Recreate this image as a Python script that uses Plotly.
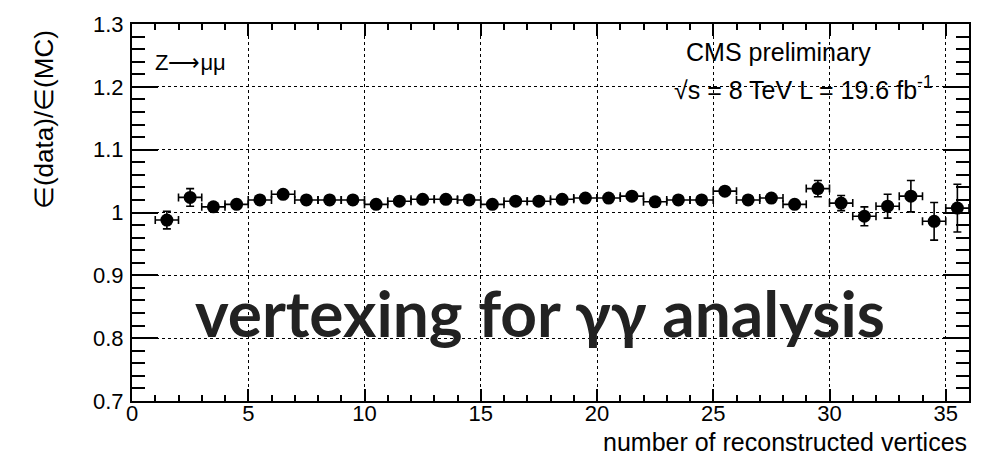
import plotly.graph_objects as go

# Data/MC efficiency ratio per bin of reconstructed vertices
n_vertices = [1.5, 2.5, 3.5, 4.5, 5.5, 6.5, 7.5, 8.5, 9.5, 10.5, 11.5, 12.5,
              13.5, 14.5, 15.5, 16.5, 17.5, 18.5, 19.5, 20.5, 21.5, 22.5, 23.5,
              24.5, 25.5, 26.5, 27.5, 28.5, 29.5, 30.5, 31.5, 32.5, 33.5, 34.5, 35.5]
ratio = [0.988, 1.024, 1.009, 1.013, 1.020, 1.029, 1.020, 1.020, 1.020, 1.013,
         1.018, 1.021, 1.021, 1.020, 1.013, 1.018, 1.018, 1.021, 1.023, 1.023,
         1.026, 1.017, 1.020, 1.020, 1.034, 1.020, 1.023, 1.013, 1.038, 1.015,
         0.994, 1.010, 1.026, 0.986, 1.007]
ratio_err = [0.014, 0.014, 0.005, 0.005, 0.005, 0.005, 0.005, 0.005, 0.005, 0.005,
             0.005, 0.005, 0.005, 0.005, 0.005, 0.005, 0.005, 0.005, 0.005, 0.005,
             0.005, 0.005, 0.005, 0.005, 0.006, 0.005, 0.005, 0.006, 0.013, 0.012,
             0.015, 0.019, 0.025, 0.030, 0.038]
bin_half_width = [0.5] * len(n_vertices)

x_ticks = [0, 5, 10, 15, 20, 25, 30, 35]
y_ticks = [0.7, 0.8, 0.9, 1.0, 1.1, 1.2, 1.3]
y_tick_text = ["0.7", "0.8", "0.9", "1", "1.1", "1.2", "1.3"]

FONT = "Liberation Sans, Arial, sans-serif"

fig = go.Figure()
fig.add_trace(go.Scatter(
    x=n_vertices, y=ratio, mode="markers",
    marker=dict(color="black", size=13, symbol="circle"),
    error_y=dict(type="data", array=ratio_err, color="black", thickness=1.6, width=4),
    error_x=dict(type="data", array=bin_half_width, color="black", thickness=1.6, width=4),
    showlegend=False,
))

fig.update_layout(
    width=992, height=456,
    margin=dict(l=132, r=23, t=21, b=55),
    paper_bgcolor="white", plot_bgcolor="white",
    font=dict(family=FONT, color="black", size=22),
)

fig.update_xaxes(
    range=[0, 36], tickvals=x_ticks, ticks="inside", ticklen=12, tickwidth=1.5,
    tickcolor="black", showline=True, linecolor="black", linewidth=2, mirror="ticks",
    showgrid=True, gridcolor="black", griddash="dot", gridwidth=1,
    zeroline=False, tickfont=dict(size=22, family=FONT), ticklabelstandoff=-8,
    minor=dict(dtick=1, ticks="inside", ticklen=6, tickwidth=1.5, tickcolor="black", showgrid=False),
)
fig.update_yaxes(
    range=[0.7, 1.3], tickvals=y_ticks, ticktext=y_tick_text, ticks="inside", ticklen=26,
    tickwidth=1.5, tickcolor="black", showline=True, linecolor="black", linewidth=2,
    mirror="ticks", showgrid=True, gridcolor="black", griddash="dot", gridwidth=1,
    zeroline=False, tickfont=dict(size=22, family=FONT), ticklabelstandoff=2,
    minor=dict(dtick=0.02, ticks="inside", ticklen=13, tickwidth=1.5, tickcolor="black", showgrid=False),
)

# Axis titles (ROOT style: aligned to the far end of the axis)
fig.add_annotation(
    text="number of reconstructed vertices", xref="paper", yref="paper",
    x=1.0, y=-0.11, xanchor="right", yanchor="middle", showarrow=False,
    font=dict(size=25, family=FONT, color="black"),
)
fig.add_annotation(
    text="∈(data)/∈(MC)", xref="paper", yref="paper",
    x=-0.106, y=0.746, xanchor="center", yanchor="middle", textangle=-90,
    showarrow=False, font=dict(size=26, family=FONT, color="black"),
)

# Labels inside the frame
fig.add_annotation(
    text="Z⟶μμ", xref="paper", yref="paper", x=0.025, y=0.898,
    xanchor="left", yanchor="middle", showarrow=False,
    font=dict(size=22, family=FONT, color="black"),
)
fig.add_annotation(
    text="CMS preliminary", xref="paper", yref="paper", x=0.659, y=0.925,
    xanchor="left", yanchor="middle", showarrow=False,
    font=dict(size=25, family=FONT, color="black"),
)
fig.add_annotation(
    text="√s = 8 TeV L = 19.6 fb<sup>-1</sup>", xref="paper", yref="paper", x=0.645, y=0.83,
    xanchor="left", yanchor="middle", showarrow=False,
    font=dict(size=25, family=FONT, color="black"),
)
fig.add_annotation(
    text="<b>vertexing for γγ analysis</b>", xref="paper", yref="paper",
    x=0.488, y=0.235, xanchor="center", yanchor="middle", showarrow=False,
    font=dict(size=64, family="Lato, sans-serif", color="#222222"),
)

fig.write_html("out.html")
